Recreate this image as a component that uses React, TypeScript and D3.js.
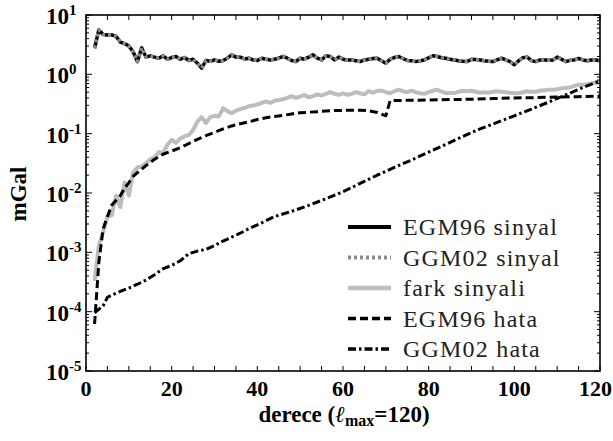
import React from "react";
import * as d3 from "d3";

// derece 2..120
const signalDegrees = d3.range(2, 121);

const egm96Signal = [
  2.75, 5.6, 4.7, 4.6, 4.6, 4.4, 3.5, 3.3, 3.0, 2.4,
  1.64, 2.8, 1.95, 2.05, 1.95, 1.87, 2.05, 1.8, 1.92, 2.0,
  1.8, 1.92, 1.71, 1.8, 1.54, 1.27, 1.71, 1.66, 1.75, 1.66,
  1.71, 1.87, 2.13, 1.95, 1.95, 1.82, 1.87, 1.75, 1.71, 1.87,
  1.8, 1.75, 1.8, 1.87, 2.0, 1.87, 1.71, 1.64, 1.87, 1.8,
  1.95, 2.13, 1.87, 1.75, 2.05, 2.0, 1.75, 1.95, 1.8, 1.75,
  1.75, 1.7, 1.64, 1.75, 1.8, 1.85, 1.87, 1.7, 1.54, 1.8,
  1.92, 2.0, 1.85, 1.71, 1.7, 1.64, 1.7, 1.75, 1.9, 2.05,
  2.0, 1.9, 1.87, 1.8, 1.75, 1.7, 1.66, 1.64, 1.8, 1.78,
  1.75, 1.7, 1.66, 1.64, 1.75, 1.87, 1.75, 1.64, 1.45, 1.7,
  1.9, 1.95, 1.7, 1.64, 1.75, 1.75, 1.72, 1.75, 1.95, 1.8,
  1.64, 1.72, 1.75, 1.85, 1.75, 1.7, 1.75, 1.75, 1.7,
];

// GGM02 sinyali EGM96 ile grafikte ust uste biniyor
const ggm02Signal = [
  2.75, 5.6, 4.7, 4.6, 4.6, 4.4, 3.5, 3.3, 3.0, 2.4,
  1.64, 2.8, 1.95, 2.05, 1.95, 1.87, 2.05, 1.8, 1.92, 2.0,
  1.8, 1.92, 1.71, 1.8, 1.54, 1.27, 1.71, 1.66, 1.75, 1.66,
  1.71, 1.87, 2.13, 1.95, 1.95, 1.82, 1.87, 1.75, 1.71, 1.87,
  1.8, 1.75, 1.8, 1.87, 2.0, 1.87, 1.71, 1.64, 1.87, 1.8,
  1.95, 2.13, 1.87, 1.75, 2.05, 2.0, 1.75, 1.95, 1.8, 1.75,
  1.75, 1.7, 1.64, 1.75, 1.8, 1.85, 1.87, 1.7, 1.54, 1.8,
  1.92, 2.0, 1.85, 1.71, 1.7, 1.64, 1.7, 1.75, 1.9, 2.05,
  2.0, 1.9, 1.87, 1.8, 1.75, 1.7, 1.66, 1.64, 1.8, 1.78,
  1.75, 1.7, 1.66, 1.64, 1.75, 1.87, 1.75, 1.64, 1.45, 1.7,
  1.9, 1.95, 1.7, 1.64, 1.75, 1.75, 1.72, 1.75, 1.95, 1.8,
  1.64, 1.72, 1.75, 1.85, 1.75, 1.7, 1.75, 1.75, 1.7,
];

const farkSignal = [
  3.3e-4, 1.3e-3, 2.2e-3, 4e-3, 4.2e-3, 9e-3, 5.8e-3, 0.015, 0.009, 0.022,
  0.027, 0.028, 0.032, 0.037, 0.04, 0.049, 0.047, 0.065, 0.079, 0.07,
  0.083, 0.09, 0.095, 0.115, 0.16, 0.19, 0.15, 0.19, 0.2, 0.195,
  0.27, 0.24, 0.22, 0.245, 0.26, 0.27, 0.29, 0.3, 0.31, 0.33,
  0.35, 0.33, 0.36, 0.37, 0.38, 0.4, 0.43, 0.4, 0.42, 0.45,
  0.41, 0.43, 0.46, 0.44, 0.47, 0.5, 0.47, 0.45, 0.48, 0.45,
  0.47, 0.5, 0.48, 0.46, 0.52, 0.49, 0.53, 0.53, 0.5, 0.48,
  0.52, 0.55, 0.52, 0.5, 0.53, 0.5, 0.48, 0.47, 0.5, 0.53,
  0.55, 0.51, 0.48, 0.49, 0.48, 0.51, 0.53, 0.52, 0.53, 0.51,
  0.49, 0.5, 0.49, 0.51, 0.52, 0.51, 0.5, 0.49, 0.48, 0.48,
  0.5, 0.52, 0.51, 0.51, 0.53, 0.54, 0.55, 0.55, 0.56, 0.58,
  0.59, 0.6, 0.64, 0.67, 0.66, 0.68, 0.7, 0.72, 0.74,
];

const egm96ErrDeg = [
  2, 3, 4, 5, 6, 7, 8, 9, 10, 11, 12,
  14, 16, 18, 20, 22, 24, 26, 28, 30, 32,
  34, 36, 38, 40, 42, 44, 46, 48, 50, 52,
  54, 56, 58, 60, 62, 64, 66, 68, 70,
  71, 75, 80, 85, 90, 95, 100, 105, 110, 115, 120,
];
const egm96Err = [
  6.2e-5, 6.8e-4, 2.5e-3, 4e-3, 6.2e-3, 7.5e-3, 9e-3, 0.012, 0.015, 0.019, 0.022,
  0.029, 0.037, 0.045, 0.051, 0.058, 0.068, 0.08, 0.093, 0.105, 0.12,
  0.135, 0.147, 0.158, 0.173, 0.186, 0.195, 0.203, 0.215, 0.225, 0.23,
  0.235, 0.24, 0.245, 0.247, 0.248, 0.248, 0.243, 0.228, 0.2,
  0.36, 0.365, 0.37, 0.375, 0.38, 0.39, 0.4, 0.405, 0.415, 0.42, 0.43,
];

const ggm02ErrDeg = [
  2, 3, 4, 5, 6,
  8, 10, 12, 14, 16, 18, 20, 22, 24, 26, 28, 30, 32, 34, 36, 38, 40,
  44, 48, 52, 56, 60, 64, 68, 72, 76, 80, 84, 88, 92, 96, 100, 104, 108, 112, 116, 120,
];
const ggm02Err = [
  9.5e-5, 1.1e-4, 1.25e-4, 1.75e-4, 1.9e-4,
  2.2e-4, 2.5e-4, 2.9e-4, 3.4e-4, 4.2e-4, 5.3e-4, 6e-4, 7.2e-4, 9.5e-4, 1.05e-3, 1.12e-3, 1.3e-3, 1.55e-3, 1.8e-3, 2.1e-3, 2.5e-3, 2.9e-3,
  4e-3, 4.9e-3, 6.2e-3, 8e-3, 1.05e-2, 1.45e-2, 2e-2, 2.7e-2, 3.6e-2, 4.9e-2, 6.6e-2, 9e-2, 0.12, 0.155, 0.2, 0.26, 0.34, 0.45, 0.6, 0.78,
];

const xLabelTicks = [0, 20, 40, 60, 80, 100, 120];
const yExponents = [1, 0, -1, -2, -3, -4, -5];
const legendLabels = ["EGM96 sinyal", "GGM02 sinyal", "fark sinyali", "EGM96 hata", "GGM02 hata"];

const W = 613;
const H = 441;
const margin = { top: 15, right: 13, bottom: 70, left: 86 };
const FONT = "Liberation Serif, Times New Roman, serif";

// cizgi stilleri (legend ile ayni sira)
const styles = [
  { stroke: "#000", width: 3.5, dash: "" },
  { stroke: "#8a8a8a", width: 3.5, dash: "3,3" },
  { stroke: "#bdbdbd", width: 4, dash: "" },
  { stroke: "#000", width: 3, dash: "8,4" },
  { stroke: "#000", width: 3, dash: "8,3,2.5,3" },
];

export default function App() {
  const innerW = W - margin.left - margin.right;
  const innerH = H - margin.top - margin.bottom;

  const x = d3.scaleLinear().domain([0, 120]).range([margin.left, margin.left + innerW]);
  const y = d3.scaleLog().domain([1e-5, 10]).range([margin.top + innerH, margin.top]);

  const line = d3
    .line<[number, number]>()
    .x((d) => x(d[0]))
    .y((d) => y(d[1]));

  const zip = (xs: number[], ys: number[]) => xs.map((v, i) => [v, ys[i]] as [number, number]);

  const series = [
    zip(signalDegrees, egm96Signal),
    zip(signalDegrees, ggm02Signal),
    zip(signalDegrees, farkSignal),
    zip(egm96ErrDeg, egm96Err),
    zip(ggm02ErrDeg, ggm02Err),
  ];
  const drawOrder = [2, 3, 4, 0, 1];

  const xMinor = d3.range(0, 121, 5);
  const yMinor = y.ticks(); // 1..9 x 10^k
  const x0 = margin.left;
  const x1 = margin.left + innerW;
  const y0 = margin.top + innerH;
  const y1 = margin.top;

  const legendX0 = 348;
  const legendX1 = 391;
  const legendY = 227;
  const legendStep = 30.5;

  return (
    <svg
      width={W}
      height={H}
      style={{ position: "absolute", left: 0, top: 0, background: "#fff", fontFamily: FONT }}
    >
      <rect width={W} height={H} fill="#fff" />

      {/* seriler */}
      <g fill="none" strokeLinejoin="round">
        {drawOrder.map((i) => (
          <path
            key={i}
            d={line(series[i]) || ""}
            stroke={styles[i].stroke}
            strokeWidth={styles[i].width}
            strokeDasharray={styles[i].dash || undefined}
          />
        ))}
      </g>

      {/* x ticks, alt ve ust */}
      <g stroke="#000" strokeWidth={1}>
        {xMinor.map((t) => (
          <g key={t}>
            <line x1={x(t)} x2={x(t)} y1={y0} y2={y0 - 5} />
            <line x1={x(t)} x2={x(t)} y1={y1} y2={y1 + 5} />
          </g>
        ))}
        {yMinor.map((t, i) => {
          const major = Math.abs(Math.log10(t) - Math.round(Math.log10(t))) < 1e-9;
          const len = major ? 6 : 3;
          return (
            <g key={i}>
              <line x1={x0} x2={x0 + len} y1={y(t)} y2={y(t)} />
              <line x1={x1} x2={x1 - len} y1={y(t)} y2={y(t)} />
            </g>
          );
        })}
      </g>

      <rect x={x0} y={y1} width={innerW} height={innerH} fill="none" stroke="#000" strokeWidth={1.6} />

      {/* x etiketleri */}
      <g fontWeight="bold" fontSize={22}>
        {xLabelTicks.map((t, i) => {
          const last = i === xLabelTicks.length - 1;
          return (
            <text key={t} x={last ? 612 : x(t)} y={396} textAnchor={last ? "end" : "middle"}>
              {t}
            </text>
          );
        })}
      </g>

      {/* y etiketleri */}
      <g fontWeight="bold">
        {yExponents.map((e) => (
          <text key={e} x={69} y={y(Math.pow(10, e)) + 9} fontSize={23} textAnchor="end">
            10
            <tspan x={69} dy={-9} fontSize={15} textAnchor="start">
              {e < 0 ? "-" + Math.abs(e) : e}
            </tspan>
          </text>
        ))}
      </g>

      {/* eksen basliklari */}
      <text transform="translate(26,194) rotate(-90)" textAnchor="middle" fontWeight="bold" fontSize={23}>
        mGal
      </text>
      <text x={344} y={422} textAnchor="middle" fontWeight="bold" fontSize={23}>
        derece (<tspan fontStyle="italic">ℓ</tspan>
        <tspan fontSize={16} dy={4}>max</tspan>
        <tspan dy={-4}>=120)</tspan>
      </text>

      {/* legend */}
      <g>
        {legendLabels.map((lab, i) => (
          <g key={lab}>
            <line
              x1={legendX0}
              x2={legendX1}
              y1={legendY + i * legendStep}
              y2={legendY + i * legendStep}
              stroke={styles[i].stroke}
              strokeWidth={styles[i].width + 0.5}
              strokeDasharray={styles[i].dash || undefined}
            />
            <text
              x={403}
              y={legendY + i * legendStep + 8}
              fontSize={24}
              letterSpacing={1.2}
              fill="#222"
            >
              {lab}
            </text>
          </g>
        ))}
      </g>
    </svg>
  );
}
